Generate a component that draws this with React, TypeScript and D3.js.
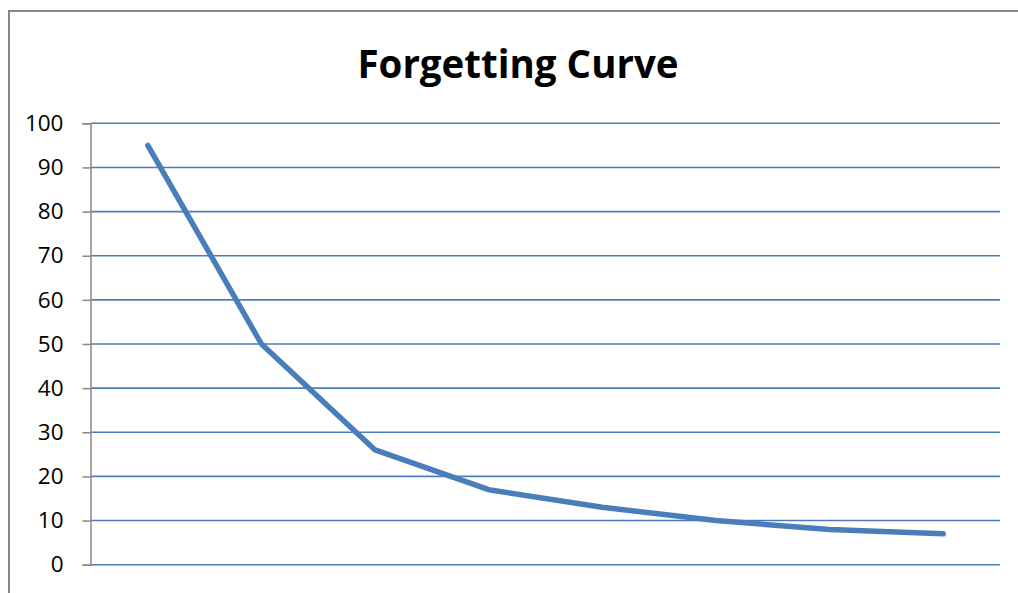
import React, { useEffect, useRef } from "react";
import { axisLeft, line, scaleBand, scaleLinear, select } from "d3";

const categories = ["1", "2", "3", "4", "5", "6", "7", "8"];
const retention = [95, 50, 26, 17, 13, 10, 8, 7];
const yTicks = [0, 10, 20, 30, 40, 50, 60, 70, 80, 90, 100];

const BLUE = "#4a7ebb";
const GRAY = "#868686";

export default function App() {
  const axisRef = useRef<SVGGElement>(null);

  const x = scaleBand().domain(categories).range([91, 1000]);
  const y = scaleLinear().domain([0, 100]).range([564.7, 123.3]);

  useEffect(() => {
    if (axisRef.current) {
      const g = select(axisRef.current);
      g.call(axisLeft(y).tickValues(yTicks).tickSize(8).tickPadding(19));
      g.select(".domain").attr("stroke", GRAY).attr("stroke-width", 1.5);
      g.selectAll(".tick line").attr("stroke", GRAY).attr("stroke-width", 1.5);
      g.selectAll(".tick text")
        .attr("fill", "#000")
        .attr("font-family", "'Open Sans', sans-serif")
        .attr("font-size", 22.5);
    }
  }, []);

  const path = line<number>()
    .x((_, i) => x(categories[i])! + x.bandwidth() / 2)
    .y((d) => y(d));

  return (
    <svg
      width={1018}
      height={593}
      style={{ position: "absolute", left: 0, top: 0, background: "#fff" }}
    >
      <rect x={9} y={11} width={1030} height={600} fill="#fff" stroke={GRAY} strokeWidth={2} />
      <text
        x={518}
        y={78}
        textAnchor="middle"
        fontFamily="'Open Sans', sans-serif"
        fontWeight="bold"
        fontSize={38.5}
      >
        Forgetting Curve
      </text>
      {yTicks.map((t) => (
        <line
          key={t}
          x1={91}
          x2={1000}
          y1={y(t)}
          y2={y(t)}
          stroke={BLUE}
          strokeWidth={1.6}
        />
      ))}
      <g ref={axisRef} transform="translate(90.5,0)" />
      <path
        d={path(retention) ?? ""}
        fill="none"
        stroke={BLUE}
        strokeWidth={5.5}
        strokeLinecap="round"
        strokeLinejoin="round"
      />
    </svg>
  );
}
